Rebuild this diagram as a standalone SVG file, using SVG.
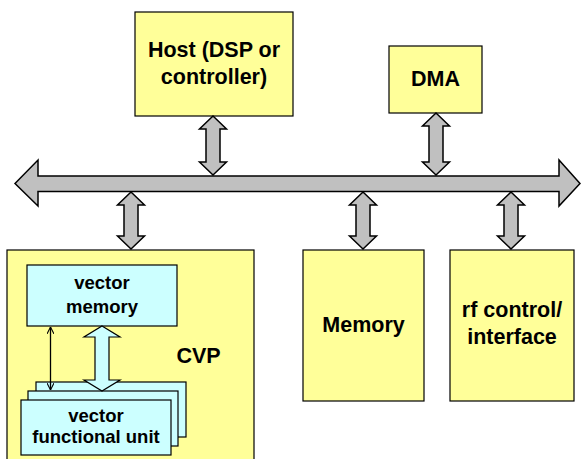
<svg xmlns="http://www.w3.org/2000/svg" width="581" height="459" viewBox="0 0 581 459">
<defs>
<style>
.y{fill:#FFFF99;stroke:#000;stroke-width:1.2}
.c{fill:#CCFFFF;stroke:#000;stroke-width:1.2}
.g{fill:#C0C0C0;stroke:#000;stroke-width:1.5;stroke-linejoin:miter}
.t{font-family:"Liberation Sans",Arial,sans-serif;font-weight:bold;font-size:21.5px;fill:#000;text-anchor:middle}
.s{font-size:18.5px}
.thin{stroke:#000;stroke-width:1.3;fill:none}
</style>
<marker id="v" viewBox="0 0 10 10" refX="10" refY="5" markerWidth="7" markerHeight="7" orient="auto-start-reverse" markerUnits="userSpaceOnUse">
<path d="M0,0 L10,5 L0,10" fill="none" stroke="#000" stroke-width="1.5"/>
</marker>
</defs>
<rect width="581" height="459" fill="#fff"/>

<g id="host">
<rect class="y" x="135" y="12" width="158" height="104"/>
<text class="t" x="214" y="57">Host (DSP or</text>
<text class="t" x="214" y="84">controller)</text>
</g>
<g id="dma">
<rect class="y" x="389" y="46" width="93" height="67"/>
<text class="t" x="435.5" y="86">DMA</text>
</g>
<g id="cvp">
<rect class="y" x="7" y="250" width="247" height="220"/>
<text class="t" x="198.5" y="363">CVP</text>
</g>
<g id="vector-memory">
<rect class="c" x="27" y="265" width="150" height="61"/>
<text class="t s" x="102" y="289">vector</text>
<text class="t s" x="102" y="313">memory</text>
</g>
<g id="vector-functional-unit">
<rect class="c" x="36" y="382" width="150" height="55"/>
<rect class="c" x="28" y="391" width="150" height="55"/>
<rect class="c" x="21" y="400" width="150" height="55"/>
<text class="t s" x="96" y="422">vector</text>
<text class="t s" x="96" y="443">functional unit</text>
</g>
<g id="memory">
<rect class="y" x="303" y="250" width="121" height="151"/>
<text class="t" x="363.5" y="332">Memory</text>
</g>
<g id="rf">
<rect class="y" x="450" y="250" width="124" height="151"/>
<text class="t" x="512" y="317">rf control/</text>
<text class="t" x="512" y="344">interface</text>
</g>

<g id="connectors">
<path class="g" d="M15,183.5 L38,160 L38,176 L559,176 L559,160 L580,183.5 L559,206 L559,191.5 L38,191.5 L38,206 Z"/>
<path class="g" d="M213,116 L226.5,129 L220,129 L220,162 L226.5,162 L213,175 L199.5,162 L206,162 L206,129 L199.5,129 Z"/>
<path class="g" d="M436,113 L449.5,126 L443,126 L443,162 L449.5,162 L436,175 L422.5,162 L429,162 L429,126 L422.5,126 Z"/>
<path class="g" d="M131,192 L144.5,205 L138,205 L138,236 L144.5,236 L131,249 L117.5,236 L124,236 L124,205 L117.5,205 Z"/>
<path class="g" d="M363,192 L376.5,205 L370,205 L370,236 L376.5,236 L363,249 L349.5,236 L356,236 L356,205 L349.5,205 Z"/>
<path class="g" d="M511,192 L524.5,205 L518,205 L518,236 L524.5,236 L511,249 L497.5,236 L504,236 L504,205 L497.5,205 Z"/>
<path class="c" d="M102,326 L120,337 L109,337 L109,380 L120,380 L102,391 L84,380 L95,380 L95,337 L84,337 Z"/>
<line class="thin" x1="50.5" y1="327" x2="50.5" y2="390" marker-start="url(#v)" marker-end="url(#v)"/>
</g>
</svg>
